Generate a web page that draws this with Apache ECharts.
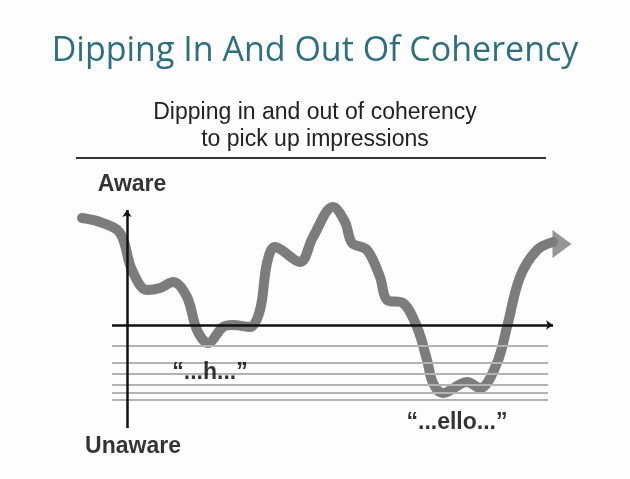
<!DOCTYPE html>
<html>
<head>
<meta charset="utf-8">
<script src="https://cdn.jsdelivr.net/npm/echarts@6/dist/echarts.min.js"></script>
<style>
html, body { margin: 0; padding: 0; background: #fff; }
#chart { width: 630px; height: 479px; }
</style>
</head>
<body>
<div id="chart"></div>
<script>
// awareness curve (x: 0..100, y: horizontal axis = 0)
const curveX = [0.4, 4, 8, 10.4, 13.4, 16, 18.6, 21.4, 23.4, 25.6, 28.6, 30.6, 34, 36, 37.4, 39, 44, 46.6, 50.6, 53, 54.4, 57.4, 60, 61.4, 64.6, 67.4, 69.4, 70.6, 72.6, 77.4, 80, 83.4, 85.4, 88, 91.4, 94.6];
const curveY = [21.4, 20.6, 18.4, 11, 7, 7.4, 8.6, 5.6, -1, -3.6, -0.4, 0, -0.4, 3, 12.4, 15.6, 12.6, 17.6, 23.6, 20.6, 16.4, 15, 9.6, 5, 4.4, -0.4, -7, -11.6, -13.6, -11.4, -12.6, -7.6, -0.4, 9.6, 15, 16.6];

// grey bands below the axis
const stripeLevels = [-4.2, -7.6, -9.8, -12, -13.6, -15];
const stripeFrom = 6.4;
const stripeTo = 93.6;

// axes drawn inside the diagram
const vAxisX = 9.4;
const vAxisRange = [-20.6, 23];
const hAxisRange = [6.4, 94.6];

// arrow head at the end of the curve
const arrowPoint = [96.4, 16.2];

// annotations
const labelTexts = ['Aware', 'Unaware', '\u201c...h...\u201d', '\u201c...ello...\u201d'];
const labelX = [10.4, 10.6, 26, 75.4];
const labelY = [28, -24.4, -9.6, -19.6];

const titleText = 'Dipping In And Out Of Coherency';
const subTitleText = 'Dipping in and out of coherency\nto pick up impressions';

const chart = echarts.init(document.getElementById('chart'));

const option = {
    backgroundColor: '#fdfdfd',
    animation: false,
    title: [
        {
            text: titleText,
            left: 'center',
            top: 27,
            textStyle: { fontFamily: 'Open Sans', fontWeight: 'normal', fontSize: 34, lineHeight: 38, color: '#2c6f7f' }
        },
        {
            text: subTitleText,
            left: 'center',
            top: 94,
            textStyle: { fontFamily: 'Liberation Sans', fontWeight: 'normal', fontSize: 23, lineHeight: 27, color: '#222' }
        }
    ],
    graphic: [
        {
            type: 'line',
            shape: { x1: 76, y1: 158, x2: 546, y2: 158 },
            style: { stroke: '#333', lineWidth: 2 }
        }
    ],
    grid: { left: 80, right: 50, top: 170, bottom: 19 },
    xAxis: { type: 'value', min: 0, max: 100, show: false },
    yAxis: { type: 'value', min: -27, max: 31, show: false },
    series: [
        {
            // stripes
            type: 'line',
            data: [],
            silent: true,
            markLine: {
                silent: true,
                symbol: ['none', 'none'],
                label: { show: false },
                lineStyle: { color: '#b3b3b3', width: 2, type: 'solid' },
                data: stripeLevels.map(v => [{ coord: [stripeFrom, v] }, { coord: [stripeTo, v] }])
            }
        },
        {
            type: 'line',
            data: curveX.map((x, i) => [x, curveY[i]]),
            smooth: 0.35,
            showSymbol: false,
            silent: true,
            lineStyle: { color: '#7c7c7c', width: 10, cap: 'round', join: 'round' },
            z: 3
        },
        {
            type: 'scatter',
            data: [arrowPoint],
            symbol: 'triangle',
            symbolSize: [28, 19],
            symbolRotate: -90,
            itemStyle: { color: '#7c7c7c' },
            silent: true,
            z: 3
        },
        {
            // axes
            type: 'line',
            data: [],
            silent: true,
            z: 4,
            markLine: {
                silent: true,
                symbol: ['none', 'arrow'],
                symbolSize: 7,
                label: { show: false },
                lineStyle: { color: '#111', width: 2.5, type: 'solid' },
                data: [
                    [{ coord: [vAxisX, vAxisRange[0]] }, { coord: [vAxisX, vAxisRange[1]] }],
                    [{ coord: [hAxisRange[0], 0] }, { coord: [hAxisRange[1], 0] }]
                ]
            }
        },
        {
            type: 'scatter',
            data: labelX.map((x, i) => [x, labelY[i], labelTexts[i]]),
            symbolSize: 0,
            silent: true,
            z: 5,
            label: {
                show: true,
                position: 'inside',
                formatter: p => p.data[2],
                fontFamily: 'Liberation Sans',
                fontWeight: 'bold',
                fontSize: 23,
                color: '#000',
                textBorderWidth: 0
            }
        }
    ]
};

chart.setOption(option);
</script>
</body>
</html>
